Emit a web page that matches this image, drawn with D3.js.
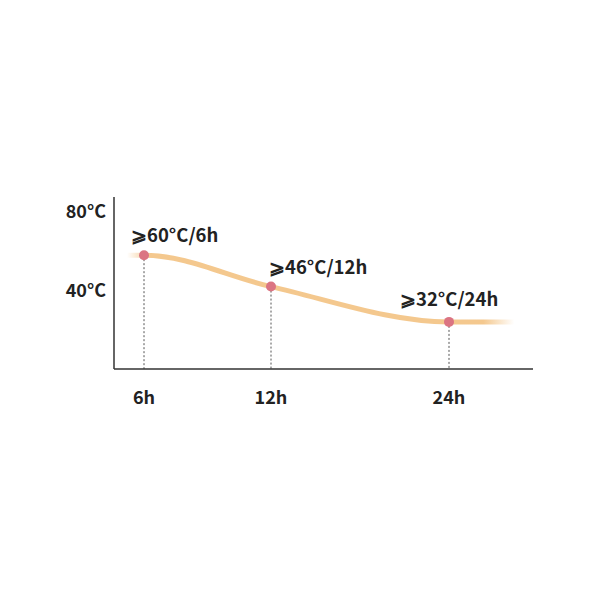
<!DOCTYPE html>
<html>
<head>
<meta charset="utf-8">
<script src="https://cdn.jsdelivr.net/npm/d3@7"></script>
<style>
  body { margin: 0; background: #fff; }
  text { font-family: "Noto Sans CJK SC", "Noto Sans", sans-serif; fill: #222; }
</style>
</head>
<body>
<div id="container"></div>
<script>
// data
let hours = [6, 12, 24];
let temps = [58, 42, 24];            // plotted height of each point
let labels = ['⩾60°C/6h', '⩾46°C/12h', '⩾32°C/24h'];
let yTicks = [40, 80];
let xTicks = [6, 12, 24];
// curve tails (fade out beyond the points)
let tailHours = [5.2, 28.4];

let width = 600, height = 600;

let svg = d3.select('#container').append('svg')
    .attr('width', width)
    .attr('height', height);

// uneven spacing on the x axis, so a polylinear scale
let x = d3.scaleLinear()
    .domain(xTicks)
    .range([144, 271, 449]);
let y = d3.scaleLinear()
    .domain([0, 80])
    .range([369, 212]);

// gradient for curve fading at ends
let defs = svg.append('defs');
let grad = defs.append('linearGradient')
    .attr('id', 'fade')
    .attr('gradientUnits', 'userSpaceOnUse')
    .attr('x1', x(tailHours[0])).attr('x2', x(tailHours[1]))
    .attr('y1', 0).attr('y2', 0);
grad.append('stop').attr('offset', '0%').attr('stop-color', '#f4c88e').attr('stop-opacity', 0);
grad.append('stop').attr('offset', '6%').attr('stop-color', '#f4c88e').attr('stop-opacity', 1);
grad.append('stop').attr('offset', '92%').attr('stop-color', '#f4c88e').attr('stop-opacity', 1);
grad.append('stop').attr('offset', '100%').attr('stop-color', '#f4c88e').attr('stop-opacity', 0);

// dotted drops
svg.append('g')
    .selectAll('line')
    .data(hours)
    .enter().append('line')
    .attr('x1', d => x(d)).attr('x2', d => x(d))
    .attr('y1', (d, i) => y(temps[i]))
    .attr('y2', y(0))
    .attr('stroke', '#555')
    .attr('stroke-width', 1)
    .attr('stroke-dasharray', '2,2');

// curve
let pts = [[tailHours[0], temps[0]]]
    .concat(hours.map((h, i) => [h, temps[i]]))
    .concat([[tailHours[1], temps[temps.length - 1]]]);
let line = d3.line()
    .x(d => x(d[0]))
    .y(d => y(d[1]))
    .curve(d3.curveMonotoneX);
svg.append('path')
    .datum(pts)
    .attr('d', line)
    .attr('fill', 'none')
    .attr('stroke', 'url(#fade)')
    .attr('stroke-width', 5);

// axes
svg.append('line')
    .attr('x1', 114).attr('x2', 114)
    .attr('y1', 197).attr('y2', y(0))
    .attr('stroke', '#333').attr('stroke-width', 1.5);
svg.append('line')
    .attr('x1', 114).attr('x2', 533)
    .attr('y1', y(0)).attr('y2', y(0))
    .attr('stroke', '#333').attr('stroke-width', 1.5);

// points
svg.append('g')
    .selectAll('circle')
    .data(hours)
    .enter().append('circle')
    .attr('cx', d => x(d))
    .attr('cy', (d, i) => y(temps[i]))
    .attr('r', 5)
    .attr('fill', '#db7482');

// point labels
let labelDx = [-13, -2, -49];
let labelDy = [-13, -13, -16];
svg.append('g')
    .selectAll('text')
    .data(labels)
    .enter().append('text')
    .attr('x', (d, i) => x(hours[i]) + labelDx[i])
    .attr('y', (d, i) => y(temps[i]) + labelDy[i])
    .attr('font-size', '18.5px')
    .attr('font-weight', 600)
    .text(d => d);

// y tick labels
svg.append('g')
    .selectAll('text')
    .data(yTicks)
    .enter().append('text')
    .attr('x', 106)
    .attr('y', d => y(d))
    .attr('dy', '0.35em')
    .attr('text-anchor', 'end')
    .attr('font-size', '18px')
    .attr('font-weight', 700)
    .text(d => d + '°C');

// x tick labels
svg.append('g')
    .selectAll('text')
    .data(xTicks)
    .enter().append('text')
    .attr('x', d => x(d))
    .attr('y', 398)
    .attr('dy', '0.35em')
    .attr('text-anchor', 'middle')
    .attr('font-size', '18px')
    .attr('font-weight', 700)
    .text(d => d + 'h');
</script>
</body>
</html>
